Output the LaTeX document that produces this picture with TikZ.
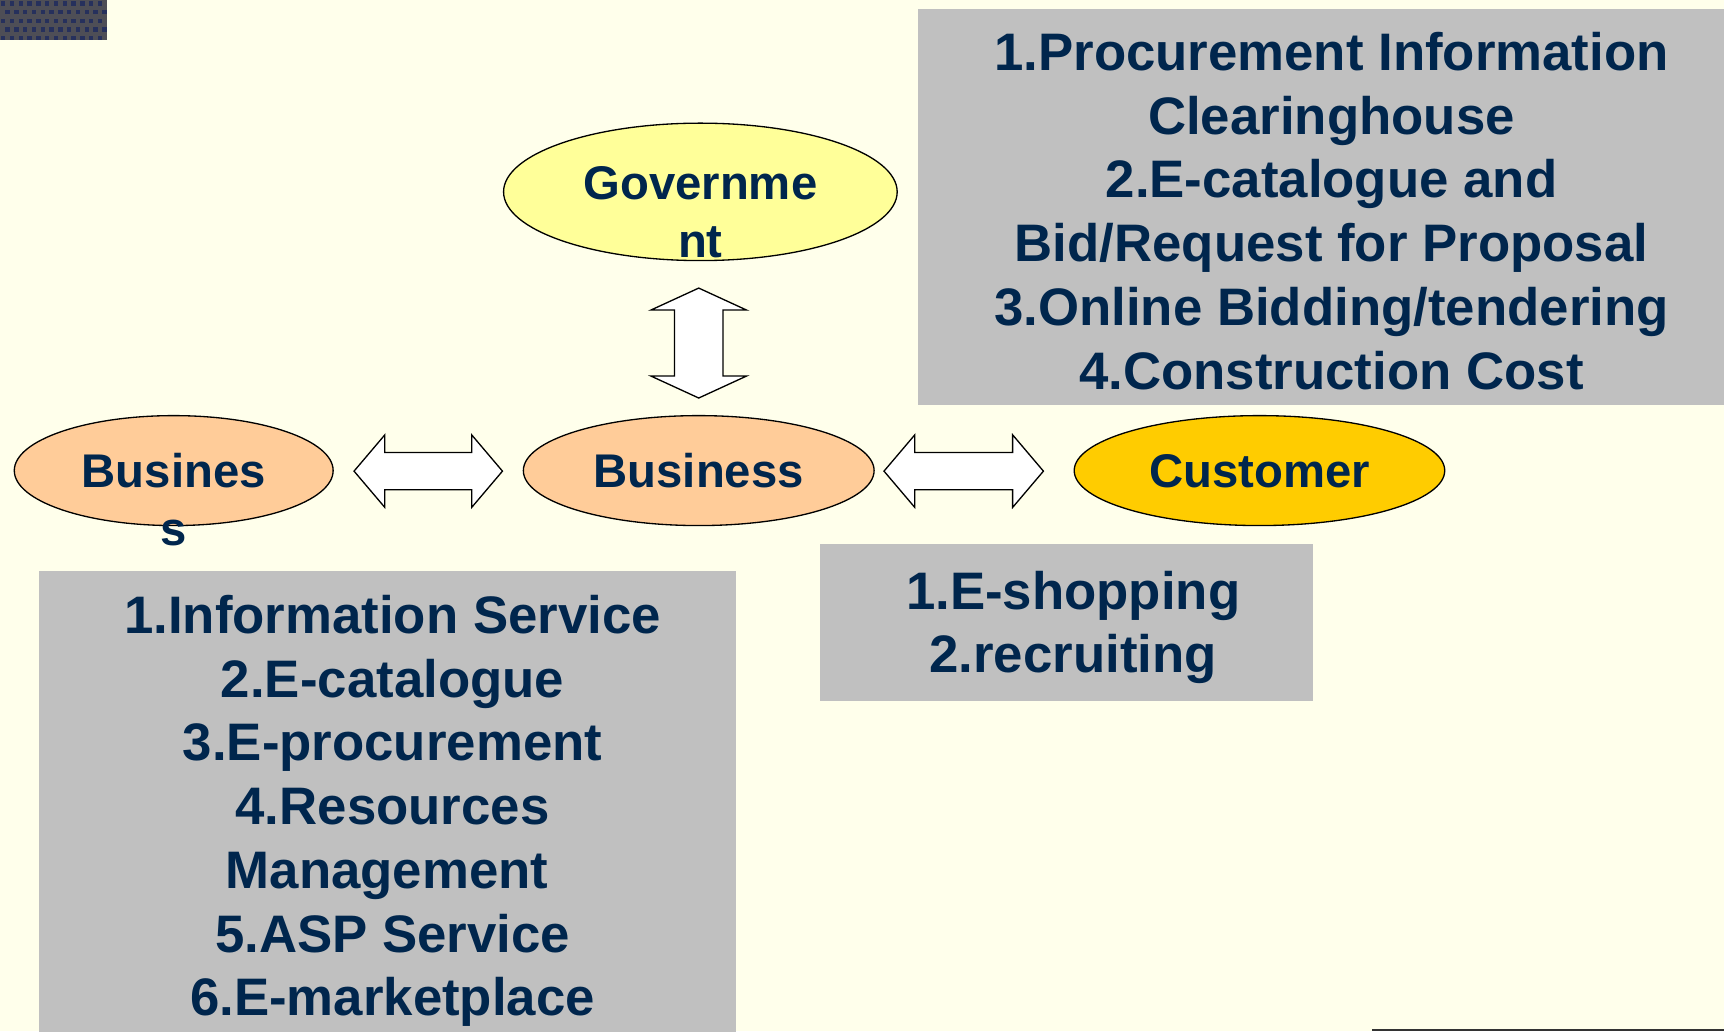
\documentclass[tikz,border=0pt]{standalone}
\usepackage{fontspec}
\setmainfont{Liberation Sans}
\usetikzlibrary{shapes.geometric}
\definecolor{bg}{RGB}{255,255,235}
\definecolor{boxgray}{RGB}{192,192,192}
\definecolor{navy}{RGB}{0,38,77}
\definecolor{govfill}{RGB}{255,255,153}
\definecolor{busfill}{RGB}{255,204,153}
\definecolor{custfill}{RGB}{255,204,0}
\definecolor{patchbase}{RGB}{78,78,86}
\definecolor{patchdot}{RGB}{38,48,92}
\definecolor{edgeline}{RGB}{51,51,51}
\newcommand\myhdarrow[2]{% y-centre 428.5, tips #1 and #2
  \draw[blockarrow] (#1,428.5) -- ({#1+28},395.5) -- ({#1+28},411.5) -- ({#2-28},411.5) -- ({#2-28},395.5) -- (#2,428.5) -- ({#2-28},461.5) -- ({#2-28},445.5) -- ({#1+28},445.5) -- ({#1+28},461.5) -- cycle;}
\begin{document}
\begin{tikzpicture}[x=1pt,y=-1pt,
  ell/.style={draw=black,line width=1.2pt,ellipse,inner sep=0pt},
  blockarrow/.style={draw=black,fill=white,line width=1.2pt,line join=miter},
  boxtxt/.style={text=navy,font=\fontsize{48}{58}\selectfont\bfseries,inner sep=0pt,anchor=base},
  elltxt/.style={text=navy,font=\fontsize{43}{53}\selectfont\bfseries,inner sep=0pt,anchor=base},
  panel/.style={fill=boxgray,draw=none,inner sep=0pt,anchor=north west}]
\useasboundingbox (0,0) rectangle (1568,938);
\fill[bg] (0,0) rectangle (1568,938);
% dark patch
\fill[patchbase] (0,0) rectangle (97,36);
\foreach \r in {0,...,4}{
  \foreach \c in {0,...,11}{
    \pgfmathsetmacro\xo{\c*8+mod(\r,2)*4+1}
    \pgfmathsetmacro\yo{\r*8+1}
    \fill[patchdot] (\xo,\yo) rectangle ({min(\xo+4,97)},{min(\yo+4,36)});
  }}
% bottom-right edge line
\fill[edgeline] (1248,936) rectangle (1568,938);
% panels
\node[panel,minimum width=733pt,minimum height=360pt] (trp) at (835,8) {};
\node[panel,minimum width=634pt,minimum height=419pt] (blp) at (35,519) {};
\node[panel,minimum width=448pt,minimum height=142pt] (cbp) at (746,495) {};
% ellipses
\node[ell,fill=govfill,minimum width=358pt,minimum height=125pt] (gov) at (637,174.5) {};
\node[ell,fill=busfill,minimum width=290pt,minimum height=100pt] (busl) at (158,428) {};
\node[ell,fill=busfill,minimum width=319pt,minimum height=100pt] (bus) at (635.5,428) {};
\node[ell,fill=custfill,minimum width=337pt,minimum height=100pt] (cust) at (1145.5,428) {};
% ellipse labels
\node[elltxt] (govt1) at (637,181) {Governme};
\node[elltxt] (govt2) at (637,234) {nt};
\node[elltxt] (buslt1) at (158,443.5) {Busines};
\node[elltxt] (buslt2) at (158,496) {s};
\node[elltxt] (bust) at (635.5,443.5) {Business};
\node[elltxt] (custt) at (1145.5,443.5) {Customer};
% block arrows
\myhdarrow{322}{457}
\myhdarrow{804}{949}
\draw[blockarrow] (635.5,262) -- (679,282) -- (657.5,282) -- (657.5,342) -- (679,342) -- (635.5,362) -- (592,342) -- (613.5,342) -- (613.5,282) -- (592,282) -- cycle;
% top-right panel text
\foreach \t [count=\i] in {1.Procurement Information,Clearinghouse,2.E-catalogue and,Bid/Request for Proposal,3.Online Bidding/tendering,4.Construction Cost}
  \node[boxtxt] (tr\i) at (1211,{64+58*(\i-1)}) {\t};
% bottom-left panel text
\foreach \t/\xc [count=\i] in {1.Information Service/357,2.E-catalogue/357,3.E-procurement/357,4.Resources/357,Management/352,5.ASP Service/357,6.E-marketplace/357}
  \node[boxtxt] (bl\i) at (\xc,{576+58*(\i-1)}) {\t};
% centre-bottom panel text
\node[boxtxt] (cb1) at (976,554) {1.E-shopping};
\node[boxtxt] (cb2) at (976,612) {2.recruiting};
\end{tikzpicture}
\end{document}
